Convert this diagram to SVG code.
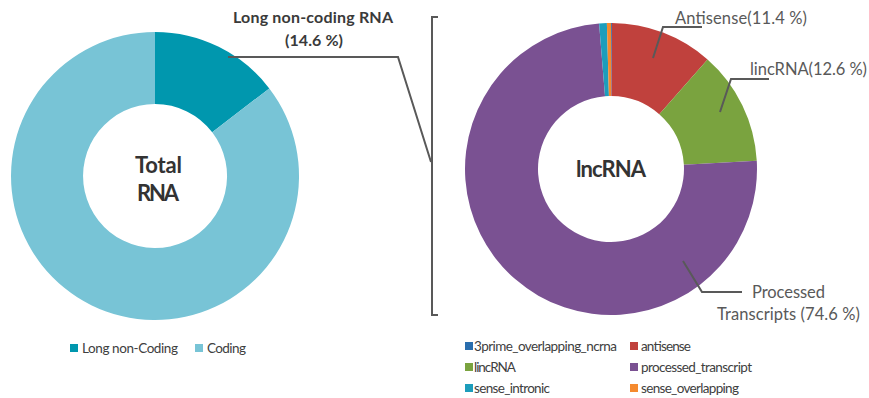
<svg xmlns="http://www.w3.org/2000/svg" width="869" height="398" viewBox="0 0 869 398">
<style>
text{font-family:Lato,"Open Sans","Liberation Sans",sans-serif}
.title{font-weight:bold;fill:#333;font-size:22px}
.lab{font-weight:bold;fill:#3a3a3a;font-size:16px}
.plab{fill:#595959;font-size:16.5px}
.leg{fill:#404040;font-size:13.5px}
.ln{fill:none;stroke:#595959;stroke-width:2;stroke-linejoin:miter}
</style>
<rect width="869" height="398" fill="#fff"/>
<g id="total-rna">
<path d="M155,32 A144,144 0 0 1 269.3,88.4 L212.2,132.2 A72,72 0 0 0 155,104 Z" fill="#0097ae"/>
<path d="M269.3,88.4 A144,144 0 1 1 155,32 L155,104 A72,72 0 1 0 212.2,132.2 Z" fill="#78c4d6"/>
<text class="title" x="135" y="173" textLength="47">Total</text>
<text class="title" x="137" y="201" textLength="42">RNA</text>
</g>
<g id="lnc-label">
<text class="lab" x="233" y="23" textLength="160">Long non-coding RNA</text>
<text class="lab" x="285" y="46" textLength="58">(14.6 %)</text>
</g>
<g id="lncrna">
<path d="M611,23 A146,146 0 0 1 611.92,23 L611.46,96 A73,73 0 0 0 611,96 Z" fill="#2a6eae"/>
<path d="M611.92,23 A146,146 0 0 1 707.55,59.48 L659.28,114.24 A73,73 0 0 0 611.46,96 Z" fill="#c0413d"/>
<path d="M707.55,59.48 A146,146 0 0 1 756.77,160.75 L683.88,164.87 A73,73 0 0 0 659.28,114.24 Z" fill="#7aa33f"/>
<path d="M756.77,160.75 A146,146 0 1 1 599.09,23.49 L605.04,96.24 A73,73 0 1 0 683.88,164.87 Z" fill="#7a5192"/>
<path d="M599.09,23.49 A146,146 0 0 1 606.87,23.06 L608.94,96.03 A73,73 0 0 0 605.04,96.24 Z" fill="#1d9dbb"/>
<path d="M606.87,23.06 A146,146 0 0 1 611,23 L611,96 A73,73 0 0 0 608.94,96.03 Z" fill="#f58a2e"/>
<text class="title" x="576" y="177" font-size="21" textLength="70">lncRNA</text>
</g>
<g id="pie-labels">
<text class="plab" x="675" y="24" textLength="132">Antisense(11.4 %)</text>
<text class="plab" x="750" y="75" textLength="117">lincRNA(12.6 %)</text>
<text class="plab" x="752" y="298" textLength="73">Processed</text>
<text class="plab" x="717" y="320" textLength="143">Transcripts (74.6 %)</text>
</g>
<g id="connectors">
<polyline class="ln" points="228,57 398,57 431,162"/>
<polyline class="ln" points="438,17 432,17 432,315 438,315" stroke-width="2.5"/>
<polyline class="ln" points="653,58 663,27 702,27"/>
<polyline class="ln" points="720,112 731,79 769,79"/>
<polyline class="ln" points="683,261 702,292 742,292"/>
</g>
<g id="legend-left">
<rect x="70" y="344" width="8" height="8" fill="#0097ae"/>
<text class="leg" x="82" y="353" textLength="96">Long non-Coding</text>
<rect x="195" y="344" width="8" height="8" fill="#78c4d6"/>
<text class="leg" x="207" y="353" textLength="39">Coding</text>
</g>
<g id="legend-right">
<rect x="465" y="342" width="8" height="8" fill="#2a6eae"/>
<text class="leg" x="474" y="351" textLength="143">3prime_overlapping_ncrna</text>
<rect x="630" y="342" width="8" height="8" fill="#c0413d"/>
<text class="leg" x="641" y="351" textLength="50">antisense</text>
<rect x="465" y="363" width="8" height="8" fill="#7aa33f"/>
<text class="leg" x="474" y="372" textLength="42">lincRNA</text>
<rect x="630" y="363" width="8" height="8" fill="#7a5192"/>
<text class="leg" x="641" y="372" textLength="111">processed_transcript</text>
<rect x="465" y="384" width="8" height="8" fill="#1d9dbb"/>
<text class="leg" x="474" y="393" textLength="76">sense_intronic</text>
<rect x="630" y="384" width="8" height="8" fill="#f58a2e"/>
<text class="leg" x="641" y="393" textLength="98">sense_overlapping</text>
</g>
</svg>
